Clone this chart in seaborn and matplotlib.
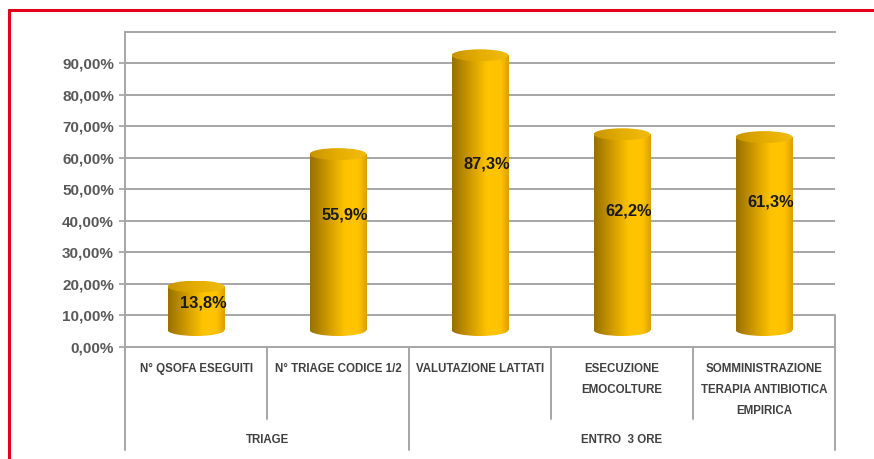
import numpy as np
import pandas as pd
import matplotlib
matplotlib.use("Agg")
import matplotlib.pyplot as plt
import seaborn as sns
from matplotlib.patches import Ellipse
from matplotlib.lines import Line2D
from matplotlib.colors import LinearSegmentedColormap
import matplotlib.transforms as mtransforms

# ---- data ----
categories = ["N° QSOFA ESEGUITI", "N° TRIAGE CODICE 1/2", "VALUTAZIONE LATTATI",
              "ESECUZIONE\nEMOCOLTURE",
              "SOMMINISTRAZIONE\nTERAPIA ANTIBIOTICA\nEMPIRICA"]
values = [13.8, 55.9, 87.3, 62.2, 61.3]
value_labels = ["13,8%", "55,9%", "87,3%", "62,2%", "61,3%"]
groups = ["TRIAGE", "ENTRO  3 ORE"]
group_sizes = [2, 3]
yticks = [0, 10, 20, 30, 40, 50, 60, 70, 80, 90]
ytick_labels = ["0,00%", "10,00%", "20,00%", "30,00%", "40,00%", "50,00%",
                "60,00%", "70,00%", "80,00%", "90,00%"]
# layout: vertical position of the value labels (percent units)
label_pos = [14, 42, 58, 43, 46]

sns.set_style("white")
plt.rcParams["font.family"] = ["Liberation Sans", "DejaVu Sans"]

fig = plt.figure(figsize=(8.74, 4.59), dpi=100)
ax = fig.add_axes([125 / 874, 1 - 346.7 / 459, 710 / 874, 314.7 / 459])

df = pd.DataFrame({"cat": categories, "val": values})
sns.barplot(data=df, x="cat", y="val", width=0.4, color="#F5B800",
            saturation=1, ax=ax, zorder=3)

depth = 5.3      # 3D floor offset in percent units
eh = 3.8         # ellipse height in percent units
grid_col = "#A6A6A6"

body_cmap = LinearSegmentedColormap.from_list(
    "body", [(0, "#977000"), (0.3, "#CC9800"), (0.62, "#FFC400"),
             (0.85, "#FFC300"), (1, "#DCA000")])
top_cmap = LinearSegmentedColormap.from_list(
    "top", [(0, "#C89400"), (0.5, "#E6AE00"), (1, "#F2BC10")])
grad = np.linspace(0, 1, 256).reshape(1, -1)

for p in list(ax.patches):
    x0, w, h = p.get_x(), p.get_width(), p.get_height()
    cx = x0 + w / 2
    p.set_visible(False)
    eb = Ellipse((cx, depth), w, eh, transform=ax.transData)
    im = ax.imshow(grad, extent=[x0, x0 + w, depth - eh / 2, depth + eh / 2],
                   aspect="auto", cmap=body_cmap, zorder=3, interpolation="bicubic")
    im.set_clip_path(eb)
    ax.imshow(grad, extent=[x0, x0 + w, depth, depth + h],
              aspect="auto", cmap=body_cmap, zorder=3.1, interpolation="bicubic")
    et = Ellipse((cx, depth + h), w, eh, transform=ax.transData)
    im2 = ax.imshow(grad, extent=[x0, x0 + w, depth + h - eh / 2, depth + h + eh / 2],
                    aspect="auto", cmap=top_cmap, zorder=3.2, interpolation="bicubic")
    im2.set_clip_path(et)

xt = np.arange(len(categories))
for i, (lab, lp) in enumerate(zip(value_labels, label_pos)):
    ax.text(xt[i] + 0.05, lp, lab, ha="center", va="center", fontsize=11.8,
            fontweight="bold", color="#1A1A1A", zorder=5)

ax.set_xlim(-0.5, len(categories) - 0.5)
ax.set_ylim(0, 100)
ax.set_yticks(yticks)
ax.set_yticklabels(ytick_labels)
ax.set_xticks([])
ax.set_xlabel("")
ax.set_ylabel("")
ax.yaxis.grid(True, color=grid_col, lw=1.4)
ax.set_axisbelow(True)
ax.tick_params(axis="y", left=True, length=4, width=1.3, color=grid_col,
               labelsize=11, labelcolor="#595959", pad=4)
for t in ax.get_yticklabels():
    t.set_fontweight("bold")
for s in ["left", "top", "bottom"]:
    ax.spines[s].set_color(grid_col)
    ax.spines[s].set_linewidth(1.4)
ax.spines["right"].set_visible(False)

# two-level category axis
trans = mtransforms.blended_transform_factory(ax.transData, ax.transAxes)
ybot = -0.328
ax.add_line(Line2D([-0.5, -0.5], [0, ybot], transform=trans, color=grid_col, lw=1.4, clip_on=False))
ax.add_line(Line2D([len(categories) - 0.5] * 2, [0.1, ybot], transform=trans, color=grid_col, lw=1.4, clip_on=False))
start = 0
for g, n in zip(groups, group_sizes):
    end = start + n
    for b in range(start + 1, end):
        ax.add_line(Line2D([b - 0.5] * 2, [0, -0.23], transform=trans, color=grid_col, lw=1.4, clip_on=False))
    if end < len(categories):
        ax.add_line(Line2D([end - 0.5] * 2, [0, ybot], transform=trans, color=grid_col, lw=1.4, clip_on=False))
    ax.text((start + end - 1) / 2, -0.297, g, transform=trans, ha="center", va="center",
            fontsize=8.3, fontweight="bold", color="#404040")
    start = end

for i, c in enumerate(categories):
    ax.text(xt[i], -0.052, c, transform=trans, ha="center", va="top",
            fontsize=8.3, fontweight="bold", color="#404040", linespacing=2.0)

# red frame
fig.add_artist(Line2D([9 / 874, 1], [1 - 10 / 459] * 2, color="#E3001B", lw=2.2))
fig.add_artist(Line2D([9 / 874] * 2, [0, 1 - 10 / 459], color="#E3001B", lw=2.2))

fig.savefig("out.png", dpi=100)
